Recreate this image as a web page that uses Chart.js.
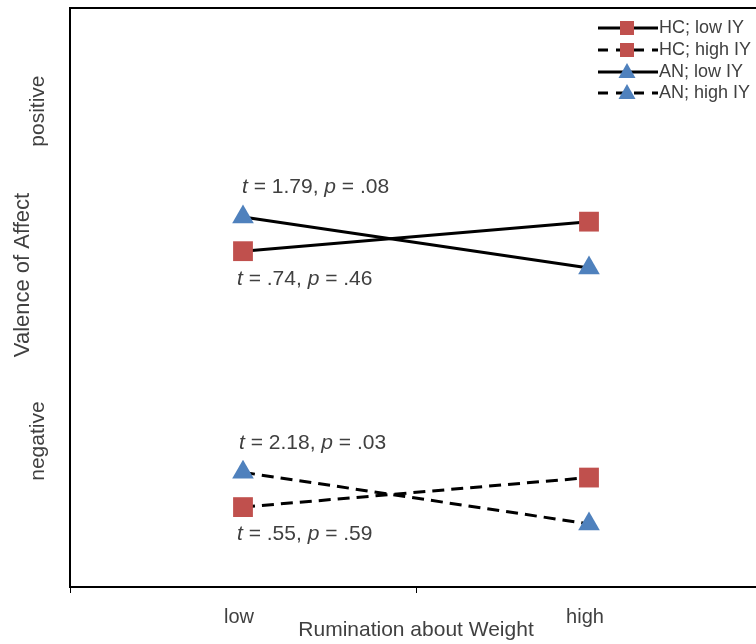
<!DOCTYPE html>
<html><head><meta charset="utf-8">
<script src="https://cdn.jsdelivr.net/npm/chart.js@4/dist/chart.umd.min.js"></script>
<style>html,body{margin:0;padding:0;overflow:hidden;background:#fff;width:756px;height:644px}canvas{display:block}</style>
</head><body>
<canvas id="c" width="770" height="644"></canvas>
<script>
const categories = ['low', 'high'];
const hcLowIY = [5.80, 6.31];
const hcHighIY = [1.38, 1.89];
const anLowIY = [6.39, 5.51];
const anHighIY = [1.98, 1.09];
const seriesLabels = ['HC; low IY', 'HC; high IY', 'AN; low IY', 'AN; high IY'];
const yAxisTitle = 'Valence of Affect';
const xAxisTitle = 'Rumination about Weight';
const yRegionLabels = ['positive', 'negative'];
const yRegionValues = [8.22, 2.52];
const annotTexts = [['1.79', '.08'], ['.74', '.46'], ['2.18', '.03'], ['.55', '.59']];
const annotValues = [6.91, 5.31, 2.49, 0.91];

const RED = '#c0504d', BLUE = '#4f81bd', TXT = '#404040';
const FONT = '"Liberation Sans", Arial, sans-serif';
const DASH = [12, 7];

function ds(label, data, color, style, dashed, r) {
  return {label, data, borderColor: '#000', borderWidth: 3, borderDash: dashed ? DASH : [],
    pointStyle: style, pointRadius: r, pointHoverRadius: r, pointBackgroundColor: color,
    pointBorderColor: color, pointBorderWidth: 0, tension: 0, fill: false};
}

const extras = {
  id: 'extras',
  afterDraw(chart) {
    const {ctx, chartArea: ca, scales} = chart;
    ctx.save();
    // top border
    ctx.strokeStyle = '#000'; ctx.lineWidth = 2;
    ctx.beginPath(); ctx.moveTo(ca.left - 1, ca.top); ctx.lineTo(ca.right, ca.top); ctx.stroke();
    // y labels
    ctx.fillStyle = TXT; ctx.textAlign = 'center'; ctx.textBaseline = 'middle';
    const drawRot = (t, x, y) => { ctx.save(); ctx.translate(x, y); ctx.rotate(-Math.PI / 2); ctx.fillText(t, 0, 0); ctx.restore(); };
    ctx.font = '22px ' + FONT;
    drawRot(yAxisTitle, 23, 275);
    ctx.font = '21px ' + FONT;
    yRegionLabels.forEach((t, i) => drawRot(t, 38, scales.y.getPixelForValue(yRegionValues[i])));
    // annotations
    ctx.textAlign = 'left';
    const x0 = scales.x.getPixelForValue(0);
    const offs = [-1, -6, -4, -6];
    annotTexts.forEach((a, i) => {
      let x = x0 + offs[i];
      const y = scales.y.getPixelForValue(annotValues[i]);
      const parts = [['t', true], [' = ' + a[0] + ', ', false], ['p', true], [' = ' + a[1], false]];
      parts.forEach(([s, it]) => {
        ctx.font = (it ? 'italic ' : '') + '21px ' + FONT;
        ctx.fillText(s, x, y);
        x += ctx.measureText(s).width;
      });
    });
    // legend
    const rows = [28, 50, 72, 93];
    const styles = [['rect', RED, false], ['rect', RED, true], ['triangle', BLUE, false], ['triangle', BLUE, true]];
    ctx.font = '18px ' + FONT;
    rows.forEach((ry, i) => {
      const [st, col, dashed] = styles[i];
      ctx.strokeStyle = '#000'; ctx.lineWidth = 3;
      ctx.setLineDash(dashed ? [10, 8] : []);
      ctx.beginPath(); ctx.moveTo(598, ry); ctx.lineTo(658, ry); ctx.stroke();
      ctx.setLineDash([]);
      ctx.fillStyle = col;
      if (st === 'rect') ctx.fillRect(620, ry - 7, 14, 14);
      else { ctx.beginPath(); ctx.moveTo(627, ry - 9); ctx.lineTo(635.5, ry + 6); ctx.lineTo(618.5, ry + 6); ctx.closePath(); ctx.fill(); }
      ctx.fillStyle = TXT; ctx.textBaseline = 'middle';
      ctx.fillText(seriesLabels[i], 659, ry);
    });
    ctx.restore();
  }
};

new Chart(document.getElementById('c'), {
  type: 'line',
  data: {
    labels: categories,
    datasets: [
      ds(seriesLabels[0], hcLowIY, RED, 'rect', false, 14),
      ds(seriesLabels[1], hcHighIY, RED, 'rect', true, 14),
      ds(seriesLabels[2], anLowIY, BLUE, 'triangle', false, 12.5),
      ds(seriesLabels[3], anHighIY, BLUE, 'triangle', true, 12.5)
    ]
  },
  options: {
    responsive: false, animation: false, devicePixelRatio: 1,
    layout: {autoPadding: false, padding: {top: 8, right: 8, left: 0, bottom: 0}},
    plugins: {legend: {display: false}, tooltip: {enabled: false}},
    scales: {
      x: {
        offset: true,
        grid: {display: true, offset: true, drawOnChartArea: false, drawTicks: true, tickLength: 6, color: '#000', lineWidth: 1},
        border: {display: true, color: '#000', width: 2},
        ticks: {color: TXT, padding: 14, labelOffset: -4, font: {size: 20, family: FONT, lineHeight: 1}},
        title: {display: true, text: xAxisTitle, color: TXT, font: {size: 21, family: FONT, lineHeight: 1}, padding: {top: 0, bottom: 3}},
        afterFit(s) { s.height = 57; s.paddingLeft = 0; s.paddingRight = 0; }
      },
      y: {
        min: 0, max: 10,
        grid: {display: false, drawTicks: false},
        border: {display: true, color: '#000', width: 2},
        ticks: {display: false},
        afterFit(s) { s.width = 70; s.paddingTop = 0; s.paddingBottom = 0; }
      }
    }
  },
  plugins: [extras]
});
</script>
</body></html>
